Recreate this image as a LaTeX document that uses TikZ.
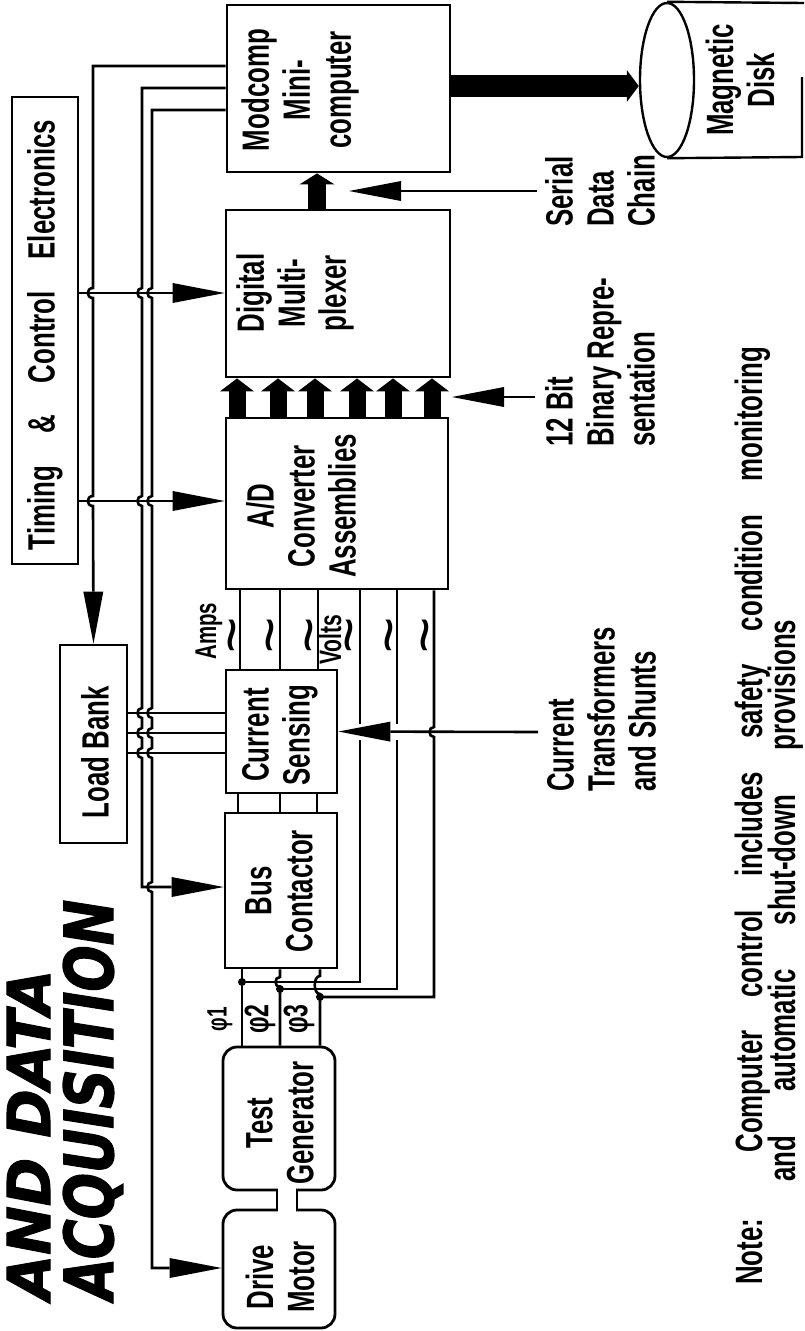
\documentclass[tikz,border=0pt]{standalone}
\usepackage{fontspec}
\setmainfont{Liberation Sans}[FakeStretch=0.68]
\newfontfamily\titlefont{DejaVu Sans}[FakeBold=2]
\newfontfamily\plainfont{Liberation Sans}
\usetikzlibrary{arrows.meta,shapes.geometric}
\begin{document}
\begin{tikzpicture}[x=1pt,y=-1pt,
  box/.style={draw, line width=2.8pt, rectangle, inner sep=0pt},
  rbox/.style={box, rounded corners=14pt},
  lbl/.style={rotate=90, font=\bfseries\fontsize{38}{41}\selectfont, align=center, inner sep=0pt},
  lbll/.style={lbl, align=left, anchor=north west},
  wire/.style={line width=2.6pt},
  arr/.style={wire, -{Triangle[length=52pt, width=20pt, line width=0pt]}},
  fatarr/.style={line width=17pt, -{Triangle[length=13pt, width=34pt, line width=0pt]}},
  fatarrb/.style={line width=18pt, -{Triangle[length=11pt, width=35pt, line width=0pt]}},
  fatarrc/.style={line width=22pt, -{Triangle[length=12pt, width=32pt, line width=0pt]}},
  tld/.style={rotate=90, inner sep=0pt, anchor=base, font=\plainfont\fontsize{62}{62}\selectfont},
]
\useasboundingbox (0,0) rectangle (804,1331);
\clip (0,0) rectangle (804,1331);

% ---------- boxes ----------
\node[box, minimum width=66pt, minimum height=467pt] (tce) at (45,330.5) {};
\node[box, minimum width=223pt, minimum height=167pt] (mc) at (338.5,88.5) {};
\node[box, minimum width=224pt, minimum height=167pt] (dm) at (338,293.5) {};
\node[box, minimum width=222pt, minimum height=171pt] (ad) at (337,503.5) {};
\node[box, minimum width=67pt, minimum height=198pt] (lb) at (93.5,744) {};
\node[box, minimum width=111pt, minimum height=123pt] (cs) at (281.5,731.5) {};
\node[box, minimum width=112pt, minimum height=155pt] (bc) at (281,890.5) {};
\node[rbox, minimum width=112pt, minimum height=143pt] (tg) at (279,1118.5) {};
\node[rbox, minimum width=112pt, minimum height=118pt] (dmo) at (279,1269) {};
\node[draw, line width=2.4pt, ellipse, minimum width=54pt, minimum height=154pt, inner sep=0pt] (disk) at (667,80) {};
\draw[line width=2.4pt] (disk.north) -- (804,3);
\draw[line width=2.4pt] (disk.south) -- (802,157) -- (802,77);

% shaft between test generator and drive motor
\fill[white] (278,1185) rectangle (296,1215);
\draw[wire] (tg.south -| 277,0) -- (dmo.north -| 277,0);
\draw[wire] (tg.south -| 297,0) -- (dmo.north -| 297,0);

% ---------- control wires ----------
\draw[arr] (tce.east |- 0,293) -- (dm.west |- 0,293);
\draw[arr] (tce.east |- 0,501) -- (ad.west |- 0,501);

\draw[arr] (mc.west |- 0,66) -- (93,66) -- (93,288) .. controls (86,288) and (86,298) .. (93,298)
  -- (93,496) .. controls (86,496) and (86,506) .. (93,506) -- (lb.north);

\draw[arr] (mc.west |- 0,88) -- (142,88)
  -- (142,288) .. controls (136,288) and (136,298) .. (142,298)
  -- (142,496) .. controls (136,496) and (136,506) .. (142,506)
  -- (142,708) .. controls (136,708) and (136,718) .. (142,718)
  -- (142,728) .. controls (136,728) and (136,738) .. (142,738)
  -- (142,748) .. controls (136,748) and (136,758) .. (142,758)
  -- (142,887) -- (bc.west |- 0,887);

\draw[arr] (mc.west |- 0,110) -- (152,110)
  -- (152,288) .. controls (146,288) and (146,298) .. (152,298)
  -- (152,496) .. controls (146,496) and (146,506) .. (152,506)
  -- (152,708) .. controls (146,708) and (146,718) .. (152,718)
  -- (152,728) .. controls (146,728) and (146,738) .. (152,738)
  -- (152,748) .. controls (146,748) and (146,758) .. (152,758)
  -- (152,882) .. controls (146,882) and (146,892) .. (152,892)
  -- (152,1268) -- (dmo.west |- 0,1268);

% load bank to current sensing
\foreach \yy in {713,733,753} {
  \draw[wire] (lb.east |- 0,\yy) -- (cs.west |- 0,\yy);
}
% A/D to current sensing, current sensing to bus contactor
\foreach \xx in {240,280,318} {
  \draw[wire] (ad.south -| \xx,0) -- (cs.north -| \xx,0);
}
\foreach \xx in {238,280,317} {
  \draw[wire] (cs.south -| \xx,0) -- (bc.north -| \xx,0);
}
% phases
\coordinate (d1) at (242,982);
\coordinate (d2) at (280,989);
\coordinate (d3) at (320,997);
\draw[wire] (bc.south -| 242,0) -- (tg.north -| 242,0);
\draw[wire] (bc.south -| 280,0) -- (280,977) .. controls (274,977) and (274,987) .. (280,987) -- (tg.north -| 280,0);
\draw[wire] (bc.south -| 320,0) -- (320,976) .. controls (313,976) and (313,994) .. (320,994) -- (tg.north -| 320,0);
\draw[wire] (ad.south -| 360,0) -- (360,982) -- (d1);
\draw[wire] (ad.south -| 397,0) -- (397,989) -- (d2);
\draw[wire] (ad.south -| 434,0) -- (434,727) .. controls (428,727) and (428,737) .. (434,737) -- (434,997) -- (d3);
\foreach \p in {d1,d2,d3} { \fill (\p) circle[radius=4]; }

% current transformers arrow
\coordinate (ctTail) at (538,732);
\draw[white, line width=16pt] (350,732) -- (405,732);
\draw[arr] (ctTail) -- (cs.east);

% serial data chain and 12 bit arrows
\coordinate (sdcTail) at (537,191);
\coordinate (sdcTip) at (349,191);
\draw[arr] (sdcTail) -- (sdcTip);
\coordinate (bitTail) at (535,397);
\coordinate (bitTip) at (452,397);
\draw[arr] (bitTail) -- (bitTip);

% fat data arrows
\foreach \xx in {237,278,315,357,393,432} {
  \draw[fatarr] (ad.north -| \xx,0) -- (dm.south -| \xx,0);
}
\draw[fatarrb] (dm.north -| 317,0) -- (mc.south -| 317,0);
\draw[fatarrc] (mc.east |- 0,86) -- (disk.west |- 0,86);

% ---------- labels ----------
\node[lbl] (tceT) at (45,335) {\makebox[430pt][s]{Timing \& Control Electronics}};
\node[lbl] (mcT) at (300,90) {Modcomp\\Mini-\\computer};
\node[lbl] (dmT) at (295,293) {Digital\\Multi-\\plexer};
\node[lbl] (adT) at (301,506) {A/D\\Converter\\Assemblies};
\node[lbl] (lbT) at (95,752) {Load Bank};
\node[lbl] (csT) at (280,735) {Current\\Sensing};
\node[lbl] (bcT) at (279,891) {Bus\\Contactor};
\node[lbl] (tgT) at (280,1123) {Test\\Generator};
\node[lbl] (dmoT) at (280,1277) {Drive\\Motor};
\node[lbl] (diskT) at (740,80) {Magnetic\\Disk};

\node[lbll] (sdcT) at (545,227) {Serial\\Data\\Chain};
\node[lbll] (bitT) at (545,447) {12 Bit\\Binary Repre-\\sentation};
\node[lbll] (ctT) at (547,792) {Current\\Transformers\\and Shunts};

\node[lbl, font=\bfseries\fontsize{30}{30}\selectfont] (ampsT) at (209,631) {Amps};
\node[lbl, font=\bfseries\fontsize{31}{31}\selectfont] (voltsT) at (330,640) {Volts};
\foreach \xx/\nm in {231/t1,269/t2,308/t3,348/t4,388/t5,424/t6} {
  \node[tld] (\nm) at (\xx+21,635) {\textasciitilde};
}

\node[lbl, font=\bfseries\fontsize{28}{28}\selectfont] (ph1) at (220,1019) {φ1};
\node[lbl, font=\bfseries\fontsize{34}{34}\selectfont] (ph2) at (260,1019) {φ2};
\node[lbl, font=\bfseries\fontsize{34}{34}\selectfont] (ph3) at (299,1019) {φ3};

\node[rotate=90, anchor=base west, inner sep=0pt, font=\bfseries\fontsize{38}{38}\selectfont] (note1) at (762,1285)
  {\makebox[938pt][s]{Note:\ \ Computer control includes safety condition monitoring}};
\node[rotate=90, anchor=base west, inner sep=0pt, font=\bfseries\fontsize{38}{38}\selectfont] (note2) at (795,1182)
  {\makebox[562pt][s]{and automatic shut-down provisions}};

\node[rotate=90, anchor=base west, inner sep=0pt] (title1) at (50,1300)
  {\resizebox{330pt}{43pt}{\titlefont\bfseries\itshape AND DATA}};
\node[rotate=90, anchor=base west, inner sep=0pt] (title2) at (113,1300)
  {\resizebox{400pt}{50pt}{\titlefont\bfseries\itshape ACQUISITION}};
\end{tikzpicture}
\end{document}
